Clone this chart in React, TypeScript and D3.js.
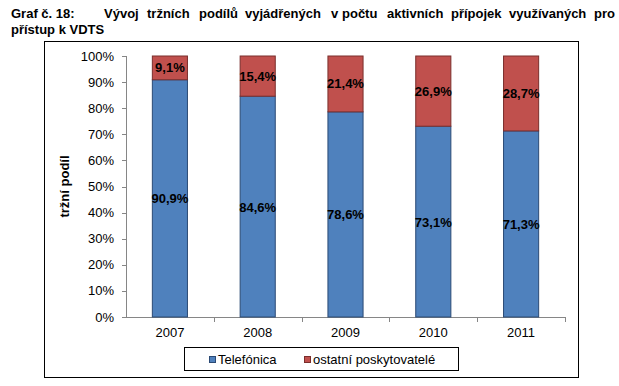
import * as d3 from "d3";

const years = ["2007", "2008", "2009", "2010", "2011"];
const telefonica = [90.9, 84.6, 78.6, 73.1, 71.3];
const ostatni = [9.1, 15.4, 21.4, 26.9, 28.7];
const seriesNames = ["Telefónica", "ostatní poskytovatelé"];
const yTicks = [0, 10, 20, 30, 40, 50, 60, 70, 80, 90, 100];

// title line 1 is justified: each word gets its own x
const titleWords: [string, number][] = [
  ["Vývoj", 104],
  ["tržních", 147],
  ["podílů", 199],
  ["vyjádřených", 245],
  ["v", 331],
  ["počtu", 342],
  ["aktivních", 387],
  ["přípojek", 451],
  ["využívaných", 509],
  ["pro", 594],
];

const font = "'Liberation Sans', Arial, sans-serif";
const fmt = (v: number) => v.toFixed(1).replace(".", ",") + "%";

export default function App() {
  const width = 619;
  const height = 386;
  const left = 126;
  const right = 565;
  const top = 56;
  const bottom = 317;

  const x = d3.scaleBand<string>().domain(years).range([left, right]).paddingInner(0.6).paddingOuter(0.3);
  const xb = d3.scaleBand<string>().domain(years).range([left, right]);
  const y = d3.scaleLinear().domain([0, 100]).range([bottom, top]);

  const rows = years.map((yr, i) => ({ yr, a: telefonica[i], b: ostatni[i] }));

  return (
    <svg
      width={width}
      height={height}
      style={{ position: "absolute", left: 0, top: 0, background: "#fff" }}
      fontFamily={font}
    >
      <g fontWeight="bold" fontSize="13" fill="#000">
        <text x={11} y={18}>Graf č. 18:</text>
        {titleWords.map(([w, px]) => (
          <text key={w} x={px} y={18}>
            {w}
          </text>
        ))}
        <text x={11} y={34}>přístup k VDTS</text>
      </g>

      <rect x={44.5} y={41.5} width={534} height={336} fill="#fff" stroke="#000" strokeWidth={1} />

      {/* y axis */}
      <line x1={left + 0.5} x2={left + 0.5} y1={top} y2={bottom} stroke="#868686" />
      {yTicks.map((t) => (
        <g key={t}>
          <line x1={left - 4} x2={left} y1={Math.round(y(t)) + 0.5} y2={Math.round(y(t)) + 0.5} stroke="#868686" />
          <text x={left - 12} y={y(t) + 4.5} fontSize="13" textAnchor="end" fill="#000">
            {t}%
          </text>
        </g>
      ))}

      {/* x axis */}
      <line x1={left} x2={right} y1={bottom + 0.5} y2={bottom + 0.5} stroke="#868686" />
      {years.map((yr) => (
        <line
          key={yr}
          x1={Math.round((xb(yr) ?? 0) + xb.bandwidth()) + 0.5}
          x2={Math.round((xb(yr) ?? 0) + xb.bandwidth()) + 0.5}
          y1={bottom}
          y2={bottom + 5}
          stroke="#868686"
        />
      ))}
      {years.map((yr) => (
        <text key={yr} x={(xb(yr) ?? 0) + xb.bandwidth() / 2} y={bottom + 20} fontSize="13" textAnchor="middle">
          {yr}
        </text>
      ))}

      {/* bars */}
      {rows.map((r) => {
        const bx = x(r.yr) ?? 0;
        const bw = x.bandwidth();
        return (
          <g key={r.yr}>
            <rect x={bx} y={y(r.a)} width={bw} height={y(0) - y(r.a)} fill="#4F81BD" stroke="#2B4A75" strokeWidth={1} />
            <rect x={bx} y={y(100)} width={bw} height={y(r.a) - y(100)} fill="#C0504D" stroke="#7A2E2C" strokeWidth={1} />
            <text x={bx + bw / 2} y={(y(r.a) + y(0)) / 2 + 5} fontSize="13" fontWeight="bold" textAnchor="middle">
              {fmt(r.a)}
            </text>
            <text x={bx + bw / 2} y={(y(100) + y(r.a)) / 2 + 4.5} fontSize="13" fontWeight="bold" textAnchor="middle">
              {fmt(r.b)}
            </text>
          </g>
        );
      })}

      <text
        transform={`translate(69, ${(top + bottom) / 2}) rotate(-90)`}
        fontSize="13"
        fontWeight="bold"
        textAnchor="middle"
      >
        tržní podíl
      </text>

      {/* legend */}
      <rect x={184.5} y={347.5} width={274} height={23} fill="#fff" stroke="#000" />
      <rect x={209.5} y={356.5} width={6} height={6} fill="#4F81BD" stroke="#2B4A75" />
      <text x={218} y={364} fontSize="13">{seriesNames[0]}</text>
      <rect x={304.5} y={356.5} width={6} height={6} fill="#C0504D" stroke="#7A2E2C" />
      <text x={313} y={364} fontSize="13">{seriesNames[1]}</text>
    </svg>
  );
}
